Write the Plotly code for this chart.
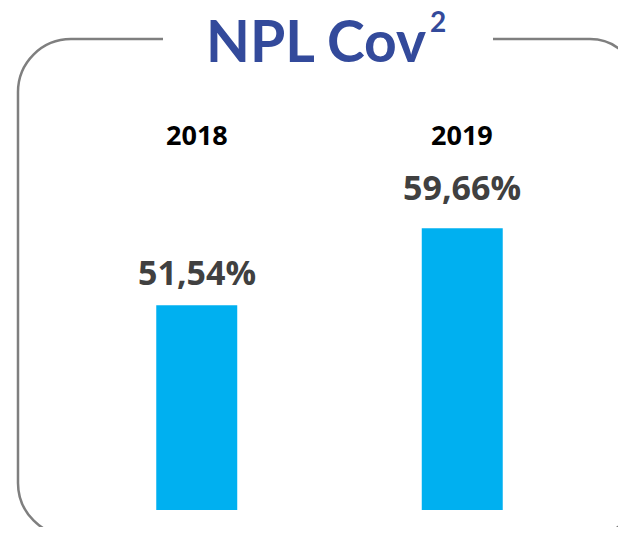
import plotly.graph_objects as go

# Data
years = ["2018", "2019"]
npl_cov = [51.54, 59.66]
title_main = "NPL Cov"
title_sup = "2"

# Layout geometry (page pixels; the page body adds an 8px margin)
OFF = 8
W_FIG, H_FIG = 610, 519
PLOT_L, PLOT_R, PLOT_T, PLOT_B = 64, 595, 100, 510  # page pixels
M_L = PLOT_L - OFF
M_T = PLOT_T - OFF
M_R = W_FIG - (PLOT_R - OFF)
M_B = H_FIG - (PLOT_B - OFF)
PW = PLOT_R - PLOT_L
PH = PLOT_B - PLOT_T
Y0 = 30
Y1 = Y0 + PH / 9.5


def px(x):
    return (x - PLOT_L) / PW


def py(y):
    return (PLOT_B - y) / PH


fig = go.Figure(
    go.Bar(
        x=list(range(len(years))),
        y=npl_cov,
        marker=dict(color="#00B0F0", line=dict(width=0)),
        width=0.305,
        hoverinfo="skip",
    )
)

# rounded border with a gap for the title (right side runs off the page)
rl, rr = 53, 48
kl, kr = 0.5523 * rl, 0.5523 * rr
L, T, R, B = 18, 39, 638, 536
g0, g1 = 163, 493


def P(x, y):
    return f"{px(x):.5f},{py(y):.5f}"


path_left = (
    f"M {P(g0, T)} L {P(L + rl, T)} "
    f"C {P(L + rl - kl, T)} {P(L, T + rl - kl)} {P(L, T + rl)} "
    f"L {P(L, B - rl)} "
    f"C {P(L, B - rl + kl)} {P(L + rl - kl, B)} {P(L + rl, B)} "
    f"L {P(R - rr, B)} "
    f"C {P(R - rr + kr, B)} {P(R, B - rr + kr)} {P(R, B - rr)}"
)
path_right = (
    f"M {P(g1, T)} L {P(R - rr, T)} "
    f"C {P(R - rr + kr, T)} {P(R, T + rr - kr)} {P(R, T + rr)}"
)
for pth in (path_left, path_right):
    fig.add_shape(type="path", path=pth, xref="paper", yref="paper",
                  line=dict(color="#7F7F7F", width=2.5))

TITLE_COLOR = "#334A9B"
annotations = [
    dict(text=title_main, x=px(428), y=py(40), xref="paper", yref="paper",
         xanchor="right", yanchor="middle", showarrow=False,
         font=dict(family="Lato", size=57, color=TITLE_COLOR, weight="bold")),
    dict(text=title_sup, x=px(428), y=py(21), xref="paper", yref="paper",
         xanchor="left", yanchor="middle", showarrow=False,
         font=dict(family="Lato", size=28, color=TITLE_COLOR, weight="bold")),
]
shifts = [19, 27]
for i, (yr, v, s) in enumerate(zip(years, npl_cov, shifts)):
    annotations.append(dict(
        text=yr, x=i, y=py(135), xref="x", yref="paper",
        xanchor="center", yanchor="middle", showarrow=False,
        font=dict(family="Open Sans", size=27, color="#000000", weight="bold")))
    annotations.append(dict(
        text=f"{v:.2f}%".replace(".", ","), x=i, y=v, xref="x", yref="y",
        xanchor="center", yanchor="bottom", yshift=s - 11, showarrow=False,
        font=dict(family="Open Sans", size=34, color="#404040", weight="bold")))

fig.update_layout(
    width=W_FIG, height=H_FIG,
    margin=dict(l=M_L, r=M_R, t=M_T, b=M_B, pad=0),
    paper_bgcolor="white", plot_bgcolor="white",
    showlegend=False,
    xaxis=dict(visible=False, type="linear", range=[-0.5, 1.5]),
    yaxis=dict(visible=False, range=[Y0, Y1]),
    annotations=annotations,
)

fig.write_html("out.html")
